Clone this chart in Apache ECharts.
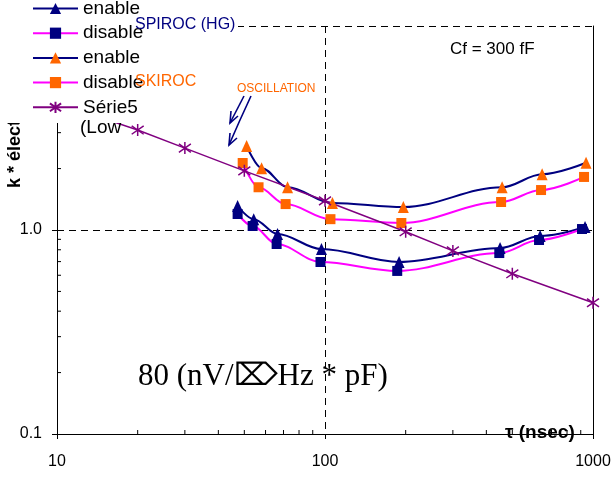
<!DOCTYPE html>
<html><head><meta charset="utf-8">
<script src="https://cdn.jsdelivr.net/npm/echarts@6/dist/echarts.min.js"></script>
<style>html,body{margin:0;padding:0;background:#fff}#c{width:616px;height:484px}</style>
</head><body><div id="c"></div>
<script>
// SPIROC (HG) enable / disable
const tauHgEn  = [47.2, 54.2, 66.5, 97, 189, 450, 635, 934];
const hgEn     = [1.31, 1.13, 0.956, 0.807, 0.697, 0.816, 0.935, 1.034];
const tauHgDis = [47.2, 53.7, 66.0, 96.2, 186, 447, 629, 910];
const hgDis    = [1.198, 1.046, 0.854, 0.697, 0.630, 0.771, 0.893, 1.011];
// SKIROC enable / disable
const tauSkEn  = [51.0, 58.0, 72.5, 106.6, 196, 458, 646, 942];
const skEn     = [2.58, 2.01, 1.62, 1.356, 1.296, 1.62, 1.876, 2.136];
const tauSkDis = [49.3, 56.5, 71.3, 104.8, 192.7, 454, 640, 926];
const skDis    = [2.13, 1.62, 1.34, 1.13, 1.082, 1.372, 1.57, 1.82];
// Série5
const tauS5 = [10, 20, 30, 50, 100, 200, 300, 500, 1000];
const s5    = [4.2, 3.09, 2.52, 1.95, 1.39, 0.98, 0.79, 0.61, 0.44];
// legend labels
const seriesIds = ['hgEn', 'hgDis', 'skEn', 'skDis', 's5'];
const legendLabels = ['enable', 'disable', 'enable', 'disable', 'Série5'];
// minor tick values
const minorX = [20, 30, 40, 50, 60, 70, 80, 90, 200, 300, 400, 500, 600, 700, 800, 900];
const minorY = [0.2, 0.3, 0.4, 0.5, 0.6, 0.7, 0.8, 0.9, 2, 3, 4, 5, 6, 7, 8, 9];

const NAVY = '#000080', MAG = '#FF00FF', ORANGE = '#FF6600', PURPLE = '#800080';
const FONT = '"Liberation Sans", Arial, sans-serif';
const starPath = 'path://M0,1.5L10,8.5M0,8.5L10,1.5M5,0L5,10';

function pts(t, v) { return t.map((x, i) => [x, v[i]]); }

function lineSeries(id, t, v, symbol, size, lineColor, markColor) {
  return {
    name: id, type: 'line', data: pts(t, v), smooth: 0.35, smoothMonotone: 'x',
    symbol: symbol, symbolSize: size, showAllSymbol: true, clip: false,
    lineStyle: { color: lineColor, width: 2 },
    itemStyle: { color: markColor },
    emphasis: { disabled: true }, z: 2
  };
}

const chart = echarts.init(document.getElementById('c'), null, { renderer: 'canvas' });
chart.setOption({
  animation: false,
  backgroundColor: '#fff',
  grid: { left: 57, right: 23, top: 26, bottom: 50 },
  xAxis: {
    type: 'log', logBase: 10, min: 10, max: 1000,
    axisLine: { show: true, lineStyle: { color: '#000', width: 1 } },
    axisTick: { show: true, inside: false, length: 5, lineStyle: { color: '#000' } },
    axisLabel: { color: '#000', fontFamily: FONT, fontSize: 16, margin: 20,
      formatter: v => String(Math.round(v)) },
    splitLine: { show: true, lineStyle: { color: '#000', type: [7, 5], width: 1 } }
  },
  yAxis: [{
    type: 'log', logBase: 10, min: 0.1, max: 10,
    axisLine: { show: true, lineStyle: { color: '#000', width: 1 } },
    axisTick: { show: true, inside: false, length: 5, lineStyle: { color: '#000' } },
    axisLabel: { color: '#000', fontFamily: FONT, fontSize: 16, margin: 15,
      formatter: v => Number(v).toFixed(1) },
    splitLine: { show: true, lineStyle: { color: '#000', type: [7, 5], width: 1 } }
  }, {
    type: 'log', logBase: 10, min: 0.1, max: 10, position: 'right',
    axisLine: { show: true, lineStyle: { color: '#000', width: 1 } },
    axisTick: { show: false }, axisLabel: { show: false }, splitLine: { show: false }
  }],
  legend: {
    data: seriesIds, orient: 'vertical', left: 32, top: -1, padding: 0,
    itemWidth: 45, itemHeight: 14, itemGap: 5.7, z: 101,
    selectedMode: false,
    formatter: name => legendLabels[seriesIds.indexOf(name)],
    textStyle: { color: '#000', fontFamily: FONT, fontSize: 19, lineHeight: 19 }
  },
  series: [
    lineSeries('hgEn', tauHgEn, hgEn, 'triangle', [11, 12], NAVY, NAVY),
    lineSeries('hgDis', tauHgDis, hgDis, 'rect', 10, MAG, NAVY),
    lineSeries('skEn', tauSkEn, skEn, 'triangle', [11, 12], NAVY, ORANGE),
    lineSeries('skDis', tauSkDis, skDis, 'rect', 10, MAG, ORANGE),
    {
      name: 's5', type: 'line', data: pts(tauS5, s5), symbol: starPath, symbolSize: 12,
      showAllSymbol: true, clip: false,
      lineStyle: { color: PURPLE, width: 1.5 },
      itemStyle: { color: PURPLE, borderColor: PURPLE, borderWidth: 1.5 },
      emphasis: { disabled: true }, z: 2
    },
    {
      type: 'custom', silent: true, z: 3, clip: false,
      data: minorX.map(v => [v, 0.1]),
      renderItem: (params, api) => {
        const p = api.coord([api.value(0), 0.1]);
        return { type: 'line', shape: { x1: p[0], y1: p[1], x2: p[0], y2: p[1] - 4 },
          style: { stroke: '#000', lineWidth: 1 } };
      }
    },
    {
      type: 'custom', silent: true, z: 3, clip: false,
      data: minorY.map(v => [10, v]),
      renderItem: (params, api) => {
        const p = api.coord([10, api.value(1)]);
        return { type: 'line', shape: { x1: p[0], y1: p[1], x2: p[0] + 4, y2: p[1] },
          style: { stroke: '#000', lineWidth: 1 } };
      }
    }
  ],
  graphic: [
    { type: 'text', x: 15, y: 188, rotation: Math.PI / 2, z: 1,
      style: { text: 'k * électrons', font: 'bold 18px ' + FONT, fill: '#000',
        textAlign: 'left', align: 'left', textVerticalAlign: 'middle', verticalAlign: 'middle' } },
    { type: 'rect', z: 100, shape: { x: 0, y: 0, width: 238, height: 123 }, style: { fill: '#fff' } },
    { type: 'text', x: 80, y: 128, z: 101,
      style: { text: '(Low', font: '19px ' + FONT, fill: '#000',
        textVerticalAlign: 'middle', verticalAlign: 'middle' } },
    { type: 'text', x: 135, y: 25, z: 110,
      style: { text: 'SPIROC (HG)', font: '16px ' + FONT, fill: NAVY,
        textVerticalAlign: 'middle', verticalAlign: 'middle' } },
    { type: 'text', x: 135, y: 82, z: 110,
      style: { text: 'SKIROC', font: '16px ' + FONT, fill: ORANGE,
        textVerticalAlign: 'middle', verticalAlign: 'middle' } },
    { type: 'text', x: 237, y: 89, z: 110,
      style: { text: 'OSCILLATION', font: '12px ' + FONT, fill: ORANGE,
        textVerticalAlign: 'middle', verticalAlign: 'middle' } },
    { type: 'text', x: 450, y: 49, z: 110,
      style: { text: 'Cf = 300 fF', font: '17px ' + FONT, fill: '#000',
        textVerticalAlign: 'middle', verticalAlign: 'middle' } },
    { type: 'text', x: 138, y: 377, z: 110,
      style: { text: '80 (nV/⌦Hz * pF)', font: '31px "Liberation Serif", "Times New Roman", serif', fill: '#000',
        textVerticalAlign: 'middle', verticalAlign: 'middle' } },
    { type: 'text', x: 505, y: 433, z: 110,
      style: { text: 'τ (nsec)', font: 'bold 19px ' + FONT, fill: '#000',
        textVerticalAlign: 'middle', verticalAlign: 'middle' } },
    // arrows
    { type: 'polyline', z: 110, shape: { points: [[244, 96], [230, 123]] },
      style: { stroke: NAVY, lineWidth: 1.6, fill: null } },
    { type: 'polyline', z: 110, shape: { points: [[231, 111], [230, 123], [238, 116]] },
      style: { stroke: NAVY, lineWidth: 1.6, fill: null } },
    { type: 'polyline', z: 110, shape: { points: [[251, 96], [240, 120], [229, 145]] },
      style: { stroke: NAVY, lineWidth: 1.6, fill: null } },
    { type: 'polyline', z: 110, shape: { points: [[230, 133], [229, 145], [237, 138]] },
      style: { stroke: NAVY, lineWidth: 1.6, fill: null } }
  ]
});
</script>
</body></html>
